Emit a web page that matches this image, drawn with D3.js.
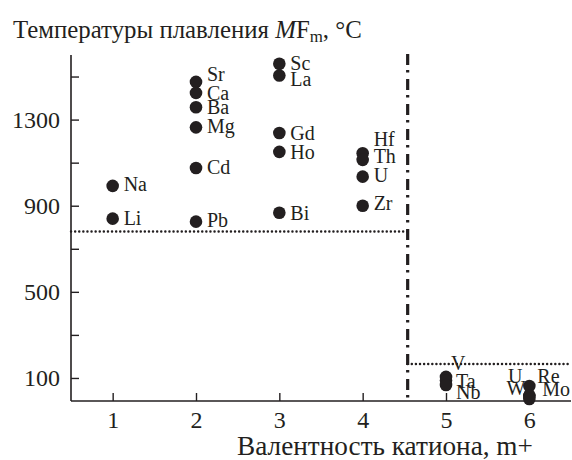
<!DOCTYPE html>
<html>
<head>
<meta charset="utf-8">
<script src="https://cdn.jsdelivr.net/npm/d3@7/dist/d3.min.js"></script>
<style>
  html, body { margin: 0; padding: 0; background: #fff; }
  svg { display: block; }
  text { font-family: "Liberation Serif", "Times New Roman", serif; fill: #231f20; }
</style>
</head>
<body>
<svg id="chart" width="572" height="460"></svg>
<script>
// ---- data ----
const elements   = ["Li","Na","Sr","Ca","Ba","Mg","Cd","Pb","Sc","La","Gd","Ho","Bi","Hf","Th","U","Zr","V","Ta","Nb","U","Re","Mo","W"];
const valences   = [1,1,2,2,2,2,2,2,3,3,3,3,3,4,4,4,4,5,5,5,6,6,6,6];
const meltPoints = [840,992,1475,1424,1357,1264,1075,826,1559,1505,1238,1150,867,1144,1113,1035,900,105,88,67,63,18,17,2];
const xTicks = [1,2,3,4,5,6];
const yTicksMajor = [100,500,900,1300];
const yTicksMinor = [300,700,1100,1500];
const boundaryValence = 4.54;     // vertical dash-dot separator
const levelLow  = 780;            // dotted level for m <= 4
const levelHigh = 165;            // dotted level for m >= 5

// label placement (pixels), separate from data
const labelPlace = {
  0:{dy:6}, 1:{dy:5}, 2:{dy:-1}, 3:{dy:7}, 4:{dy:7}, 5:{dy:6}, 6:{dy:6}, 7:{dy:5},
  8:{dy:6}, 9:{dy:11}, 10:{dy:7}, 11:{dy:7}, 12:{dy:7},
  13:{dy:-7}, 14:{dy:3}, 15:{dy:5}, 16:{dy:4.5},
  17:{dx:5, dy:-7}, 18:{dx:10, dy:7}, 19:{dx:10, dy:14},
  20:{dx:-7, dy:-3, anchor:"end"}, 21:{dx:8, dy:-13}, 22:{dx:13, dy:0}, 23:{dx:-4, dy:-4, anchor:"end"}
};

const svg = d3.select("#chart");
const x = d3.scaleLinear().domain([0.5, 6.5]).range([71, 571]);
const y = d3.scaleLinear().domain([-7, 1600]).range([401, 55]);
const ink = "#231f20";

// axes
const xAxis = d3.axisBottom(x).tickValues(xTicks).tickSize(-8).tickPadding(10).tickFormat(d3.format("d"));
const gx = svg.append("g").attr("transform", `translate(0,${y.range()[0]})`).call(xAxis);
gx.select(".domain").attr("d", `M${x.range()[0]},0H${x.range()[1]}`).attr("stroke", ink).attr("stroke-width", 1.6);
gx.selectAll(".tick line").attr("stroke", ink).attr("stroke-width", 1.4);
gx.selectAll(".tick text").attr("font-size", 24).attr("font-family", "Liberation Serif").attr("fill", ink);

const yAxis = d3.axisLeft(y).tickValues(yTicksMajor).tickSize(-8).tickPadding(11).tickFormat(d3.format("d"));
const gy = svg.append("g").attr("transform", `translate(${x.range()[0]},0)`).call(yAxis);
gy.select(".domain").attr("d", `M0,${y.range()[0]}V${y.range()[1]}`).attr("stroke", ink).attr("stroke-width", 1.6);
gy.selectAll(".tick line").attr("stroke", ink).attr("stroke-width", 1.4);
gy.selectAll(".tick text").attr("font-size", 24).attr("font-family", "Liberation Serif").attr("fill", ink);
const gyMinor = svg.append("g").attr("transform", `translate(${x.range()[0]},0)`)
  .call(d3.axisLeft(y).tickValues(yTicksMinor).tickSize(-8).tickFormat(""));
gyMinor.select(".domain").remove();
gyMinor.selectAll(".tick line").attr("stroke", ink).attr("stroke-width", 1.4);

// reference lines
svg.append("line")
  .attr("x1", x(boundaryValence)).attr("x2", x(boundaryValence))
  .attr("y1", y.range()[1] - 1).attr("y2", y.range()[0])
  .attr("stroke", ink).attr("stroke-width", 3.2)
  .attr("stroke-dasharray", "11,5,2.5,6.5");
svg.append("line")
  .attr("x1", x.range()[0]).attr("x2", x(boundaryValence))
  .attr("y1", y(levelLow)).attr("y2", y(levelLow))
  .attr("stroke", ink).attr("stroke-width", 2.4).attr("stroke-linecap", "round")
  .attr("stroke-dasharray", "0.1,4");
svg.append("line")
  .attr("x1", x(boundaryValence)).attr("x2", x.range()[1])
  .attr("y1", y(levelHigh)).attr("y2", y(levelHigh))
  .attr("stroke", ink).attr("stroke-width", 2.4).attr("stroke-linecap", "round")
  .attr("stroke-dasharray", "0.1,4");

// points
const pts = elements.map((e, i) => ({name: e, m: valences[i], t: meltPoints[i], i}));
svg.append("g").selectAll("circle").data(pts).join("circle")
  .attr("cx", d => x(d.m)).attr("cy", d => y(d.t)).attr("r", 6.3)
  .attr("fill", ink);

// labels
svg.append("g").selectAll("text").data(pts).join("text")
  .attr("x", d => x(d.m) + (labelPlace[d.i].dx ?? 11))
  .attr("y", d => y(d.t) + (labelPlace[d.i].dy ?? 6))
  .attr("text-anchor", d => labelPlace[d.i].anchor || "start")
  .attr("font-size", 20)
  .text(d => d.name);

// fit a text element's font size so that it spans a target width
function fitWidth(sel, target) {
  const fs = +sel.attr("font-size");
  const w = sel.node().getComputedTextLength();
  if (w > 0) {
    const nf = fs * target / w;
    sel.attr("font-size", nf);
    sel.selectAll("tspan.sub").attr("font-size", nf * 0.68);
  }
}

// title
const title = svg.append("text").attr("x", 13).attr("y", 38).attr("font-size", 22);
title.append("tspan").text("Температуры плавления ");
title.append("tspan").attr("font-style", "italic").text("M");
title.append("tspan").text("F");
title.append("tspan").attr("class", "sub").attr("font-size", 15).attr("dy", 4).text("m");
title.append("tspan").attr("dy", -4).text(", °C");
fitWidth(title, 349);

// x-axis title
const xt = svg.append("text").attr("x", 385).attr("y", 455).attr("text-anchor", "middle")
  .attr("font-size", 22).text("Валентность катиона, m+");
fitWidth(xt, 296);
</script>
</body>
</html>
